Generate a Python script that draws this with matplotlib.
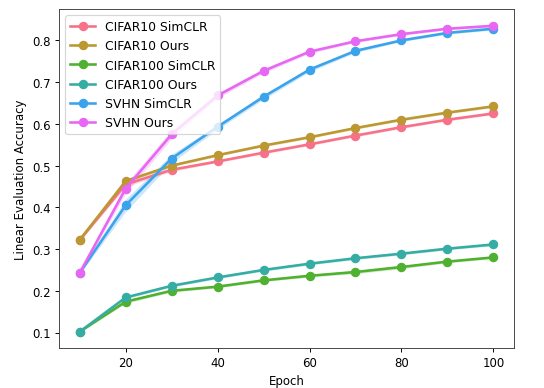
import matplotlib
matplotlib.use('Agg')
import matplotlib.pyplot as plt
import seaborn as sns
import numpy as np

# Data
#-------------------------------------------------
epochs = [10, 20, 30, 40, 50, 60, 70, 80, 90, 100]
labels = ['CIFAR10 SimCLR', 'CIFAR10 Ours', 'CIFAR100 SimCLR',
          'CIFAR100 Ours', 'SVHN SimCLR', 'SVHN Ours']

cifar10_simclr = [0.322, 0.455, 0.490, 0.510, 0.531, 0.551, 0.572, 0.592, 0.610, 0.625]
cifar10_ours = [0.322, 0.463, 0.500, 0.525, 0.548, 0.568, 0.590, 0.610, 0.627, 0.642]
cifar100_simclr = [0.102, 0.174, 0.200, 0.210, 0.225, 0.236, 0.245, 0.257, 0.270, 0.280]
cifar100_ours = [0.102, 0.184, 0.212, 0.232, 0.250, 0.265, 0.278, 0.289, 0.301, 0.311]
svhn_simclr = [0.243, 0.405, 0.517, 0.593, 0.665, 0.730, 0.775, 0.800, 0.818, 0.828]
svhn_ours = [0.243, 0.445, 0.575, 0.668, 0.727, 0.773, 0.798, 0.815, 0.828, 0.835]

# spread of the shaded bands
cifar10_simclr_sd = [0.004, 0.006, 0.004, 0.003, 0.003, 0.003, 0.003, 0.003, 0.003, 0.003]
cifar10_ours_sd = [0.004, 0.004, 0.003, 0.003, 0.003, 0.003, 0.003, 0.003, 0.003, 0.003]
cifar100_simclr_sd = [0.002, 0.004, 0.003, 0.003, 0.003, 0.003, 0.004, 0.004, 0.003, 0.003]
cifar100_ours_sd = [0.002, 0.003, 0.003, 0.003, 0.003, 0.003, 0.003, 0.003, 0.003, 0.003]
svhn_simclr_sd = [0.003, 0.015, 0.010, 0.006, 0.006, 0.005, 0.004, 0.003, 0.003, 0.003]
svhn_ours_sd = [0.003, 0.012, 0.010, 0.006, 0.005, 0.004, 0.003, 0.003, 0.003, 0.003]

series = [cifar10_simclr, cifar10_ours, cifar100_simclr,
          cifar100_ours, svhn_simclr, svhn_ours]
spreads = [cifar10_simclr_sd, cifar10_ours_sd, cifar100_simclr_sd,
           cifar100_ours_sd, svhn_simclr_sd, svhn_ours_sd]

colors = sns.color_palette('husl', 6)

fig, ax = plt.subplots(figsize=(6.4, 4.576), dpi=85)

for y, sd, lab, c in zip(series, spreads, labels, colors):
    y = np.array(y)
    sd = np.array(sd)
    ax.fill_between(epochs, y - sd, y + sd, color=c, alpha=0.25, lw=0)
    ax.plot(epochs, y, '-o', color=c, lw=2.2, ms=7, label=lab)

ax.set_xticks([20, 40, 60, 80, 100])
ax.set_yticks([0.1, 0.2, 0.3, 0.4, 0.5, 0.6, 0.7, 0.8])
ax.set_xlabel('Epoch')
ax.set_ylabel('Linear Evaluation Accuracy')
for s in ax.spines.values():
    s.set_color('#444444')
ax.legend(loc='upper left', fontsize=10.5)

fig.subplots_adjust(left=0.1085, right=0.945, top=0.974, bottom=0.103)
fig.savefig('out.png', dpi=85)
